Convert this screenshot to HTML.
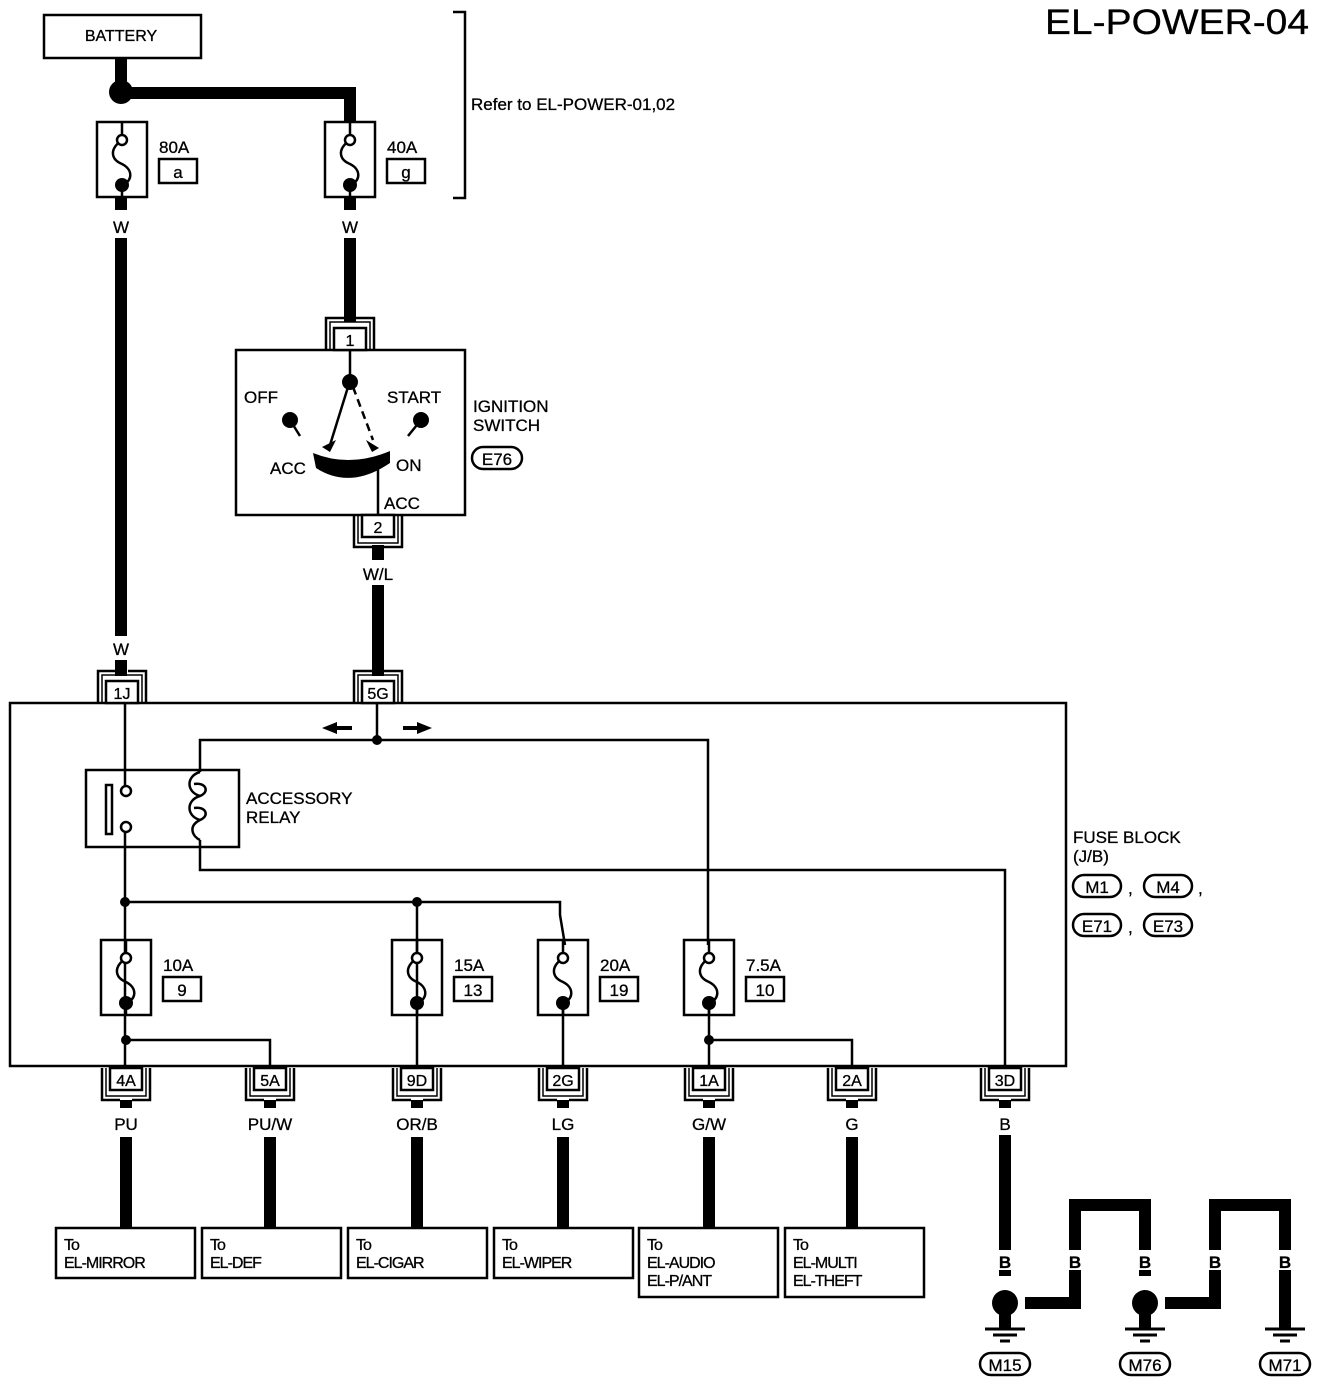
<!DOCTYPE html>
<html><head><meta charset="utf-8"><style>
html,body{margin:0;padding:0;background:#fff}
svg{display:block}
text{font-family:"Liberation Sans",sans-serif;fill:#000;stroke:#000;stroke-width:0.3}
</style></head><body>
<svg id="s" width="1328" height="1386" viewBox="0 0 1328 1386" xmlns="http://www.w3.org/2000/svg">
<g fill="none" stroke="#000" stroke-width="2.5">
<rect x="44" y="15" width="157" height="43"/>
<polyline points="453,12 465,12 465,198 453,198"/>
<rect x="236" y="350" width="229" height="165"/>
<rect x="10" y="703" width="1056" height="363"/>
<rect x="86" y="770" width="153" height="77"/>
<rect x="106" y="785" width="6" height="49"/>
<circle cx="126" cy="791" r="5" fill="#fff"/>
<circle cx="126" cy="827" r="5" fill="#fff"/>
<line x1="125" y1="703" x2="125" y2="786"/>
<line x1="125" y1="832" x2="125" y2="1066"/>
<polyline points="200,772 200,740 708,740 708,945"/>
<path d="M200,772 C186,776 186,792 200,796 C210,792 206,782 194,784 M200,796 C186,800 186,816 200,820 C210,816 206,806 194,808 M200,820 C188,826 192,836 200,840"/>
<polyline points="200,840 200,870 1005,870 1005,1066"/>
<line x1="377" y1="703" x2="377" y2="740"/>
<polyline points="125,902 560,902 560,915 565,945"/>
<line x1="417" y1="902" x2="417" y2="1066"/>
<line x1="563" y1="1000" x2="563" y2="1066"/>
<line x1="709" y1="1000" x2="709" y2="1066"/>
<polyline points="126,1040 270,1040 270,1066"/>
<polyline points="709,1040 852,1040 852,1066"/>
<line x1="350" y1="350" x2="350" y2="382"/>
<line x1="378" y1="458" x2="378" y2="515"/>
<line x1="290" y1="420" x2="300" y2="436"/>
<line x1="421" y1="420" x2="408" y2="436"/>
<line x1="348" y1="387" x2="330" y2="445"/>
<line x1="353" y1="387" x2="373" y2="440" stroke-dasharray="8,5"/>
</g>
<path d="M313,453 Q350,468 390,451 L390,463 Q350,490 316,468 Z" fill="#000"/>
<path d="M322,447 L336,440 L330,452 Z M366,440 L379,448 L372,452 Z" fill="#000"/>
<g fill="#000">
<circle cx="121" cy="92" r="12"/>
<circle cx="350" cy="382" r="8"/>
<circle cx="290" cy="420" r="8"/>
<circle cx="421" cy="420" r="8"/>
<circle cx="377" cy="740" r="5"/>
<circle cx="125" cy="902" r="5"/>
<circle cx="417" cy="902" r="5"/>
<circle cx="126" cy="1040" r="5"/>
<circle cx="709" cy="1040" r="5"/>
<path d="M322,728 L337,722 L337,726 L352,726 L352,730 L337,730 L337,734 Z"/>
<path d="M432,728 L417,722 L417,726 L403,726 L403,730 L417,730 L417,734 Z"/>
</g>
<g fill="none" stroke="#000" stroke-width="12">
<line x1="121" y1="58" x2="121" y2="92"/>
<polyline points="121,93 350,93 350,122"/>
<line x1="121" y1="197" x2="121" y2="210"/>
<line x1="350" y1="197" x2="350" y2="210"/>
<line x1="121" y1="238" x2="121" y2="636"/>
<line x1="350" y1="238" x2="350" y2="322"/>
<line x1="378" y1="545" x2="378" y2="560"/>
<line x1="378" y1="585" x2="378" y2="676"/>
<line x1="121" y1="660" x2="121" y2="676"/>
<line x1="1005" y1="1135" x2="1005" y2="1250"/>
<polyline points="1025,1303 1075,1303 1075,1270"/>
<polyline points="1075,1250 1075,1205 1145,1205 1145,1250"/>
<polyline points="1165,1303 1215,1303 1215,1270"/>
<polyline points="1215,1250 1215,1205 1285,1205 1285,1250"/>
<line x1="1285" y1="1270" x2="1285" y2="1328"/>
<line x1="1005" y1="1270" x2="1005" y2="1276"/>
<line x1="1145" y1="1270" x2="1145" y2="1276"/>
<line x1="1005" y1="1312" x2="1005" y2="1328"/>
<line x1="1145" y1="1312" x2="1145" y2="1328"/>
</g>
<g fill="#000"><circle cx="1005" cy="1303" r="13"/><circle cx="1145" cy="1303" r="13"/></g>
<g id="dyn"></g>
<g font-size="17">
<text x="121" y="41" text-anchor="middle" font-size="16">BATTERY</text>
<text x="471" y="110">Refer to EL-POWER-01,02</text>
<text x="1045" y="34" font-size="35" textLength="264" lengthAdjust="spacingAndGlyphs">EL-POWER-04</text>
<text x="121" y="233" text-anchor="middle">W</text>
<text x="350" y="233" text-anchor="middle">W</text>
<text x="121" y="655" text-anchor="middle">W</text>
<text x="378" y="580" text-anchor="middle">W/L</text>
<text x="244" y="403">OFF</text>
<text x="387" y="403">START</text>
<text x="270" y="474">ACC</text>
<text x="396" y="471">ON</text>
<text x="384" y="509">ACC</text>
<text x="473" y="412">IGNITION</text>
<text x="473" y="431">SWITCH</text>
<text x="246" y="804">ACCESSORY</text>
<text x="246" y="823">RELAY</text>
<text x="1073" y="843">FUSE BLOCK</text>
<text x="1073" y="862">(J/B)</text>
</g>
</svg>
<script>
var g=document.getElementById("dyn"),h="";
function fuse(cx,y,amp,lab){
 h+='<rect x="'+(cx-25)+'" y="'+y+'" width="50" height="75" fill="none" stroke="#000" stroke-width="2.5"/>';
 h+='<path d="M'+cx+','+(y+18)+' C'+(cx-14)+','+(y+28)+' '+(cx-10)+','+(y+38)+' '+cx+','+(y+42)+' C'+(cx+12)+','+(y+48)+' '+(cx+10)+','+(y+60)+' '+cx+','+(y+63)+'" fill="none" stroke="#000" stroke-width="2.5"/>';
 h+='<circle cx="'+cx+'" cy="'+(y+18)+'" r="5" fill="#fff" stroke="#000" stroke-width="2.5"/>';
 h+='<circle cx="'+cx+'" cy="'+(y+63)+'" r="7" fill="#000"/>';
 h+='<line x1="'+cx+'" y1="'+y+'" x2="'+cx+'" y2="'+(y+13)+'" stroke="#000" stroke-width="2.5"/>';
 h+='<line x1="'+cx+'" y1="'+(y+63)+'" x2="'+cx+'" y2="'+(y+75)+'" stroke="#000" stroke-width="2.5"/>';
 h+='<text x="'+(cx+37)+'" y="'+(y+31)+'" font-size="17">'+amp+'</text>';
 h+='<rect x="'+(cx+37)+'" y="'+(y+37)+'" width="38" height="24" fill="none" stroke="#000" stroke-width="2.5"/>';
 h+='<text x="'+(cx+56)+'" y="'+(y+56)+'" font-size="17" text-anchor="middle">'+lab+'</text>';
}
fuse(122,122,"80A","a");fuse(350,122,"40A","g");
fuse(126,940,"10A","9");fuse(417,940,"15A","13");fuse(563,940,"20A","19");fuse(709,940,"7.5A","10");
function conTop(cx,y,lab){
 h+='<path d="M'+(cx-24)+','+(y+32)+' L'+(cx-24)+','+y+' L'+(cx-6)+','+y+' M'+(cx+6)+','+y+' L'+(cx+24)+','+y+' L'+(cx+24)+','+(y+32)+'" fill="none" stroke="#000" stroke-width="2.5"/>';
 h+='<path d="M'+(cx-20)+','+(y+32)+' L'+(cx-20)+','+(y+4)+' L'+(cx+20)+','+(y+4)+' L'+(cx+20)+','+(y+32)+'" fill="none" stroke="#000" stroke-width="1.5"/>';
 h+='<rect x="'+(cx-16)+'" y="'+(y+10)+'" width="32" height="22" fill="#fff" stroke="#000" stroke-width="2.5"/>';
 h+='<text x="'+cx+'" y="'+(y+28)+'" font-size="16" text-anchor="middle">'+lab+'</text>';
}
function conBot(cx,y,lab){
 h+='<path d="M'+(cx-24)+','+y+' L'+(cx-24)+','+(y+32)+' L'+(cx-6)+','+(y+32)+' M'+(cx+6)+','+(y+32)+' L'+(cx+24)+','+(y+32)+' L'+(cx+24)+','+y+'" fill="none" stroke="#000" stroke-width="2.5"/>';
 h+='<path d="M'+(cx-20)+','+y+' L'+(cx-20)+','+(y+28)+' L'+(cx+20)+','+(y+28)+' L'+(cx+20)+','+y+'" fill="none" stroke="#000" stroke-width="1.5"/>';
 h+='<rect x="'+(cx-16)+'" y="'+y+'" width="32" height="22" fill="#fff" stroke="#000" stroke-width="2.5"/>';
 h+='<text x="'+cx+'" y="'+(y+18)+'" font-size="16" text-anchor="middle">'+lab+'</text>';
 h+='<line x1="'+cx+'" y1="'+(y+32)+'" x2="'+cx+'" y2="'+(y+40)+'" stroke="#000" stroke-width="12"/>';
}
conTop(350,318,"1");conBot(378,515,"2");
conTop(122,671,"1J");conTop(378,671,"5G");
var B=[[126,"4A","PU"],[270,"5A","PU/W"],[417,"9D","OR/B"],[563,"2G","LG"],[709,"1A","G/W"],[852,"2A","G"],[1005,"3D","B"]];
B.forEach(function(b){conBot(b[0],1068,b[1]);
 h+='<text x="'+b[0]+'" y="1130" font-size="17" text-anchor="middle">'+b[2]+'</text>';
 if(b[0]!=1005) h+='<line x1="'+b[0]+'" y1="1137" x2="'+b[0]+'" y2="1228" stroke="#000" stroke-width="12"/>';});
var D=[[56,["To","EL-MIRROR"]],[202,["To","EL-DEF"]],[348,["To","EL-CIGAR"]],[494,["To","EL-WIPER"]],[639,["To","EL-AUDIO","EL-P/ANT"]],[785,["To","EL-MULTI","EL-THEFT"]]];
D.forEach(function(d){var hh=d[1].length==3?69:50;
 h+='<rect x="'+d[0]+'" y="1228" width="139" height="'+hh+'" fill="none" stroke="#000" stroke-width="2.5"/>';
 d[1].forEach(function(t,i){h+='<text x="'+(d[0]+8)+'" y="'+(1250+i*18)+'" font-size="16" letter-spacing="-1">'+t+'</text>';});});
[1005,1075,1145,1215,1285].forEach(function(x){h+='<text x="'+x+'" y="1268" font-size="17" font-weight="bold" text-anchor="middle">B</text>';});
function oval(cx,cy,t,w){h+='<rect x="'+(cx-w/2)+'" y="'+(cy-11)+'" width="'+w+'" height="22" rx="11" fill="none" stroke="#000" stroke-width="2.5"/><text x="'+cx+'" y="'+(cy+7)+'" font-size="17" text-anchor="middle">'+t+'</text>';}
[[1005,"M15"],[1145,"M76"],[1285,"M71"]].forEach(function(m){var x=m[0];
 h+='<line x1="'+(x-20)+'" y1="1329" x2="'+(x+20)+'" y2="1329" stroke="#000" stroke-width="3"/><line x1="'+(x-12)+'" y1="1335" x2="'+(x+12)+'" y2="1335" stroke="#000" stroke-width="3"/><line x1="'+(x-5)+'" y1="1341" x2="'+(x+5)+'" y2="1341" stroke="#000" stroke-width="3"/>';
 oval(x,1364,m[1],50);});
oval(497,458,"E76",50);
oval(1097,886,"M1",48);oval(1168,886,"M4",48);oval(1097,925,"E71",48);oval(1168,925,"E73",48);
h+='<text x="1128" y="894" font-size="17">,</text><text x="1198" y="894" font-size="17">,</text><text x="1128" y="933" font-size="17">,</text>';
g.innerHTML=h;
</script>
</body></html>
